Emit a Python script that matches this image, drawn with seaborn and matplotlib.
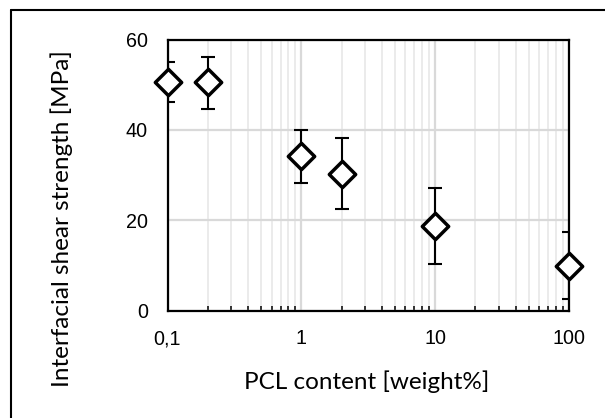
import matplotlib
matplotlib.use("Agg")
import matplotlib.pyplot as plt
from matplotlib.lines import Line2D
from matplotlib.ticker import LogLocator, NullFormatter
import numpy as np
import pandas as pd
import seaborn as sns

# ---- data ----
pcl_content = [0.1, 0.2, 1, 2, 10, 100]
ifss = [50.5, 50.5, 34.2, 30.3, 18.8, 10.0]
err_upper = [55.1, 56.2, 40.0, 38.1, 27.1, 17.5]
err_lower = [46.1, 44.7, 28.2, 22.6, 10.3, 2.6]
x_tick_vals = [0.1, 1, 10, 100]
x_tick_labels = ["0,1", "1", "10", "100"]
y_tick_vals = [0, 20, 40, 60]

df = pd.DataFrame({"pcl": pcl_content, "ifss": ifss,
                   "hi": err_upper, "lo": err_lower})

sns.set_theme(style="white")
plt.rcParams["font.family"] = ["Liberation Sans", "DejaVu Sans"]

W, H = 605, 418
fig = plt.figure(figsize=(W / 100, H / 100), dpi=100)
ax_l, ax_r, ax_t, ax_b = 167.5, 569, 39.5, 310.7
ax = fig.add_axes([ax_l / W, 1 - ax_b / H, (ax_r - ax_l) / W, (ax_b - ax_t) / H])

ax.set_xscale("log")
ax.set_xlim(0.1, 100)
ax.set_ylim(0, 60)

# grid
ax.xaxis.set_minor_locator(LogLocator(base=10, subs=np.arange(2, 10)))
ax.xaxis.set_minor_formatter(NullFormatter())
ax.grid(True, which="major", axis="both", color="#d9d9d9", linewidth=1.6, zorder=0)
ax.grid(True, which="minor", axis="x", color="#e8e8e8", linewidth=1.2, zorder=0)
ax.set_axisbelow(True)

# error bars
yerr = np.array([df["ifss"] - df["lo"], df["hi"] - df["ifss"]])
ax.errorbar(df["pcl"], df["ifss"], yerr=yerr, fmt="none", ecolor="black",
            elinewidth=1.5, capsize=4.8, capthick=1.5, zorder=3)

# markers
sns.scatterplot(data=df, x="pcl", y="ifss", marker="D", s=180,
                facecolor="white", edgecolor="black", linewidth=2.5,
                ax=ax, zorder=4, clip_on=False, legend=False)

ax.set_xticks(x_tick_vals)
ax.set_xticklabels(x_tick_labels)
ax.set_yticks(y_tick_vals)

ax.tick_params(axis="both", which="major", direction="in", length=4, width=1.3,
               color="black", labelsize=14.2, labelcolor="black")
ax.tick_params(axis="x", which="major", pad=13.5)
ax.tick_params(axis="y", which="major", pad=14)
ax.tick_params(axis="x", which="minor", direction="in", length=3.5, width=1.1,
               color="black", bottom=True)
ax.tick_params(axis="x", which="both", top=False)

for sp in ax.spines.values():
    sp.set_visible(True)
    sp.set_color("black")
    sp.set_linewidth(1.6)

lab_font = ["Lato", "DejaVu Sans"]
ax.set_xlabel("PCL content [weight%]", fontsize=17.5, family=lab_font, color="black", va="center")
ax.xaxis.set_label_coords(((367 - ax_l) / (ax_r - ax_l)), (ax_b - 382) / (ax_b - ax_t))
ax.set_ylabel("Interfacial shear strength [MPa]", fontsize=17.5, family=lab_font, color="black", va="center")
ax.yaxis.set_label_coords((62 - ax_l) / (ax_r - ax_l), (ax_b - 219) / (ax_b - ax_t))

# outer frame (left and top edges; right/bottom at the image border)
fig.add_artist(Line2D([11.5 / W, 11.5 / W], [0, 1 - 10 / H], transform=fig.transFigure,
                      color="black", linewidth=1.5))
fig.add_artist(Line2D([11.5 / W, 1], [1 - 10 / H, 1 - 10 / H], transform=fig.transFigure,
                      color="black", linewidth=1.5))

fig.savefig("out.png", dpi=100)
